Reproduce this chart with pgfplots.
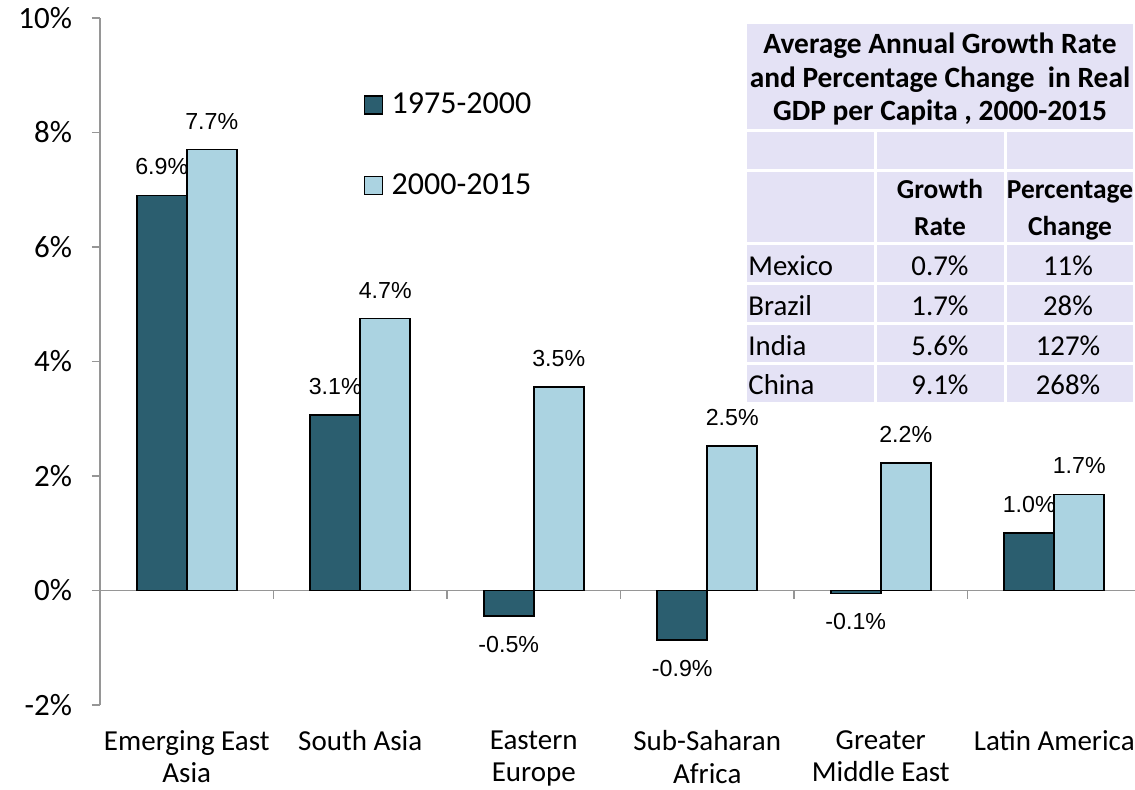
\documentclass[border=0pt]{standalone}
\usepackage{pgfplots}
\pgfplotsset{compat=1.18}
\usepackage{fontspec}
\setmainfont{Carlito}
\newfontfamily\arial{Liberation Sans}
\definecolor{darkbar}{RGB}{43,94,111}
\definecolor{lightbar}{RGB}{171,211,225}
\definecolor{lav}{RGB}{228,226,245}
\definecolor{axgray}{RGB}{150,150,150}
\begin{document}
\begin{tikzpicture}
\useasboundingbox (0,0) rectangle (567.5pt,-394.5pt);
\begin{axis}[
  at={(50pt,-352.5pt)}, anchor=south west,
  scale only axis, width=520.5pt, height=343.5pt,
  xmin=-0.5, xmax=5.5, ymin=-2, ymax=10,
  axis y line=left, axis x line=middle,
  axis line style={draw=axgray, line width=0.75pt, -},
  ytick={-2,0,2,4,6,8,10},
  yticklabels={-2\%,0\%,2\%,4\%,6\%,8\%,10\%},
  yticklabel style={font=\fontsize{15.5}{18}\selectfont, text=black, anchor=east},
  yticklabel shift=6.5pt,
  xtick={0.5,1.5,2.5,3.5,4.5},
  xticklabels={},
  extra x ticks={0,1,2,3,4,5},
  extra x tick labels={Emerging East\\Asia, South Asia, Eastern\\Europe, Sub-Saharan\\Africa, Greater\\Middle East, Latin America},
  extra x tick style={major tick length=0pt},
  xticklabel style={align=center, font=\fontsize{14.5}{16.2}\selectfont, anchor=north, yshift=-66.5pt},
  tick style={draw=axgray, line width=0.75pt},
  tick align=outside,
  major tick length=4pt,
  ybar=0pt,
  legend image code/.code={\draw[#1,line width=0.6pt] (0pt,-4.5pt) rectangle (9pt,4.5pt);},
  legend style={at={(0.247,0.903)}, anchor=north west, draw=none, fill=none,
    font=\fontsize{16}{19}\selectfont, row sep=24.5pt,
    nodes={inner xsep=4.5pt}},
  legend cell align=left,
  every node near coord/.append style={font=\arial\fontsize{11.6}{14}\selectfont, text=black, inner xsep=0pt, inner ysep=10pt},
]
\addplot[ybar, bar width=25pt, bar shift=-12.5pt, fill=darkbar, draw=black, line width=0.8pt]
  coordinates {(0,6.9)(1,3.07)(2,-0.45)(3,-0.86)(4,-0.05)(5,1.0)};
\addlegendentry{1975-2000}
\addplot[ybar, bar width=25pt, bar shift=12.5pt, fill=lightbar, draw=black, line width=0.8pt]
  coordinates {(0,7.7)(1,4.75)(2,3.55)(3,2.52)(4,2.23)(5,1.68)};
\addlegendentry{2000-2015}
% labels, positive values (above the bars)
\addplot[ybar, bar width=25pt, bar shift=-12.5pt, draw=none, fill=none, forget plot,
  nodes near coords, point meta=explicit symbolic,
  every node near coord/.append style={anchor=south}]
  coordinates {(0,6.9)[6.9\%] (1,3.07)[3.1\%] (5,1.0)[1.0\%]};
% labels, negative values (below the bars)
\addplot[ybar, bar width=25pt, bar shift=-12.5pt, draw=none, fill=none, forget plot,
  nodes near coords, point meta=explicit symbolic,
  every node near coord/.append style={anchor=north}]
  coordinates {(2,-0.45)[-0.5\%] (3,-0.86)[-0.9\%] (4,-0.05)[-0.1\%]};
\addplot[ybar, bar width=25pt, bar shift=12.5pt, draw=none, fill=none, forget plot,
  nodes near coords, point meta=explicit symbolic,
  every node near coord/.append style={anchor=south}]
  coordinates {(0,7.7)[7.7\%] (1,4.75)[4.7\%] (2,3.55)[3.5\%] (3,2.52)[2.5\%] (4,2.23)[2.2\%] (5,1.68)[1.7\%]};
\end{axis}
\begin{scope}[x=0.5pt,y=-0.5pt]
  \fill[lav] (747,24) rectangle (1133,129);
  \foreach \ya/\yb in {131.5/168.5, 171.5/242, 245/282, 285/322, 325/362, 365/402}{
    \fill[lav] (747,\ya) rectangle (874,\yb);
    \fill[lav] (877,\ya) rectangle (1003.5,\yb);
    \fill[lav] (1006.5,\ya) rectangle (1133,\yb);
  }
  \begin{scope}[every node/.style={inner sep=0pt, anchor=base, font=\bfseries\fontsize{14.7}{17}\selectfont}]
    \node at (940,53.3) {Average Annual Growth Rate};
    \node at (940,87.3) {and Percentage Change\ \ in Real};
    \node at (940,120.7) {GDP per Capita , 2000-2015};
  \end{scope}
  \begin{scope}[every node/.style={inner sep=0pt, anchor=base, font=\bfseries\fontsize{13.7}{17}\selectfont}]
    \node at (940,198.3) {Growth};
    \node at (940,235) {Rate};
    \node at (1070,198.3) {Percentage};
    \node at (1070,235) {Change};
  \end{scope}
  \begin{scope}[every node/.style={inner sep=0pt, font=\fontsize{14.4}{17}\selectfont}]
    \foreach \n/\g/\p/\yy in {Mexico/0.7/11/275, Brazil/1.7/28/315, India/5.6/127/355, China/9.1/268/394}{
      \node[anchor=base west] at (748,\yy) {\n};
      \node[anchor=base] at (940,\yy) {\g\%};
      \node[anchor=base] at (1068,\yy) {\p\%};
    }
  \end{scope}
\end{scope}
\end{tikzpicture}
\end{document}
